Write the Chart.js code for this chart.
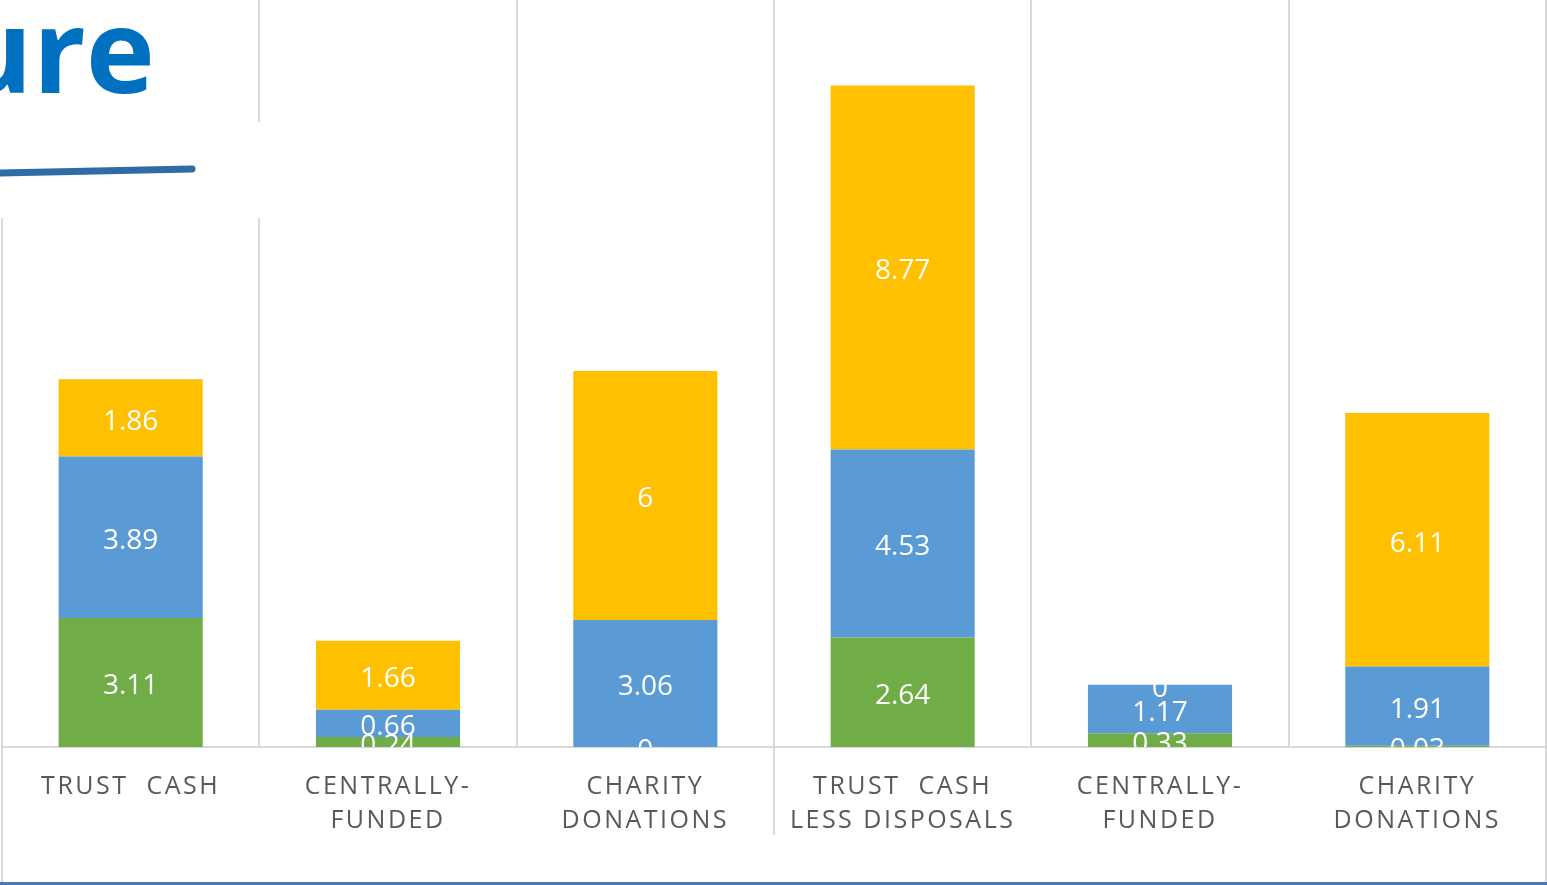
<!DOCTYPE html>
<html>
<head>
<meta charset="utf-8">
<title>Capital expenditure by source</title>
<script src="https://cdn.jsdelivr.net/npm/chart.js@4"></script>
<style>
  html, body { margin: 0; padding: 0; background: #fff; overflow: hidden; }
  #wrap { position: relative; width: 1547px; height: 885px; overflow: hidden; }
  #wrap canvas { position: absolute; left: 0; top: 0; }
  .cover { position: absolute; background: #fff; }
  #heading {
    position: absolute; right: 1392px; top: -11px; white-space: nowrap;
    font: bold 117px/1 "Open Sans", sans-serif; color: #0070c0;
  }
  #rule { position: absolute; left: 0; top: 155px; }
  #baseLine { position: absolute; left: 0; top: 882px; width: 1547px; height: 3px; background: #4a76c6; }
</style>
</head>
<body>
<div id="wrap">
  <canvas id="chart" width="1547" height="885"></canvas>
  <div class="cover" style="left:0;top:0;width:257px;height:122px"></div>
  <div class="cover" style="left:0;top:122px;width:264px;height:96px"></div>
  <div id="heading">ure</div>
  <svg id="rule" width="210" height="30">
    <path d="M -6 18 L 192 14" stroke="#2e6ca6" stroke-width="7" stroke-linecap="round" fill="none"/>
  </svg>
  <div id="baseLine"></div>
</div>
<script>
const categories = [
  ['TRUST  CASH'],
  ['CENTRALLY-', 'FUNDED'],
  ['CHARITY', 'DONATIONS'],
  ['TRUST  CASH', 'LESS DISPOSALS'],
  ['CENTRALLY-', 'FUNDED'],
  ['CHARITY', 'DONATIONS']
];
const lowerValues  = [3.11, 0.24, 0,    2.64, 0.33, 0.03];
const middleValues = [3.89, 0.66, 3.06, 4.53, 1.17, 1.91];
const upperValues  = [1.86, 1.66, 6,    8.77, 0,    6.11];

const GRID = '#d9d9d9';

// white value text in the middle of every segment, clipped to the plot
const segmentLabels = {
  id: 'segmentLabels',
  afterDatasetsDraw(chart) {
    const { ctx, chartArea } = chart;
    ctx.save();
    ctx.letterSpacing = '0px';
    ctx.beginPath();
    ctx.rect(chartArea.left, chartArea.top, chartArea.right - chartArea.left, chartArea.bottom - chartArea.top);
    ctx.clip();
    ctx.font = '28px "Open Sans", sans-serif';
    ctx.fillStyle = '#fff';
    ctx.textAlign = 'center';
    ctx.textBaseline = 'middle';
    chart.data.datasets.forEach((ds, i) => {
      chart.getDatasetMeta(i).data.forEach((bar, j) => {
        ctx.fillText(String(ds.data[j]), bar.x, (bar.y + bar.base) / 2 + 4);
      });
    });
    ctx.restore();
  }
};

// spaced-out axis text, and the frame lines running down past the axis
const axisDecor = {
  id: 'axisDecor',
  beforeDraw(chart) {
    chart.ctx.letterSpacing = '2.5px';
  },
  afterDraw(chart) {
    const { ctx, chartArea, scales } = chart;
    const x = scales.x;
    const mid = (x.getPixelForValue(2) + x.getPixelForValue(3)) / 2;
    ctx.save();
    ctx.strokeStyle = GRID;
    ctx.lineWidth = 2;
    ctx.beginPath();
    ctx.moveTo(chartArea.left, chartArea.bottom); ctx.lineTo(chartArea.left, chart.height);
    ctx.moveTo(chartArea.right, chartArea.bottom); ctx.lineTo(chartArea.right, chart.height);
    ctx.moveTo(mid, chartArea.bottom); ctx.lineTo(mid, 835);
    ctx.stroke();
    ctx.restore();
    ctx.letterSpacing = '0px';
  }
};

new Chart(document.getElementById('chart'), {
  type: 'bar',
  data: {
    labels: categories,
    datasets: [
      { label: 'Lower', data: lowerValues, backgroundColor: '#70ad47' },
      { label: 'Middle', data: middleValues, backgroundColor: '#5b9bd5' },
      { label: 'Upper', data: upperValues, backgroundColor: '#ffc000' }
    ]
  },
  options: {
    responsive: false,
    animation: false,
    layout: { padding: { left: 2, right: 1, top: 0, bottom: 0 } },
    datasets: { bar: { barPercentage: 0.56, categoryPercentage: 1.0 } },
    plugins: { legend: { display: false }, tooltip: { enabled: false } },
    scales: {
      x: {
        stacked: true,
        z: 1,
        afterFit(scale) { scale.height = 138; },
        grid: { color: GRID, lineWidth: 2, drawTicks: false, offset: true },
        border: { color: GRID, width: 2 },
        ticks: {
          autoSkip: false,
          maxRotation: 0,
          padding: 23,
          color: '#595959',
          font: { family: '"Open Sans", sans-serif', size: 25, lineHeight: 1.36 }
        }
      },
      y: {
        stacked: true,
        display: false,
        min: 0,
        max: 18
      }
    }
  },
  plugins: [segmentLabels, axisDecor]
});
</script>
</body>
</html>
